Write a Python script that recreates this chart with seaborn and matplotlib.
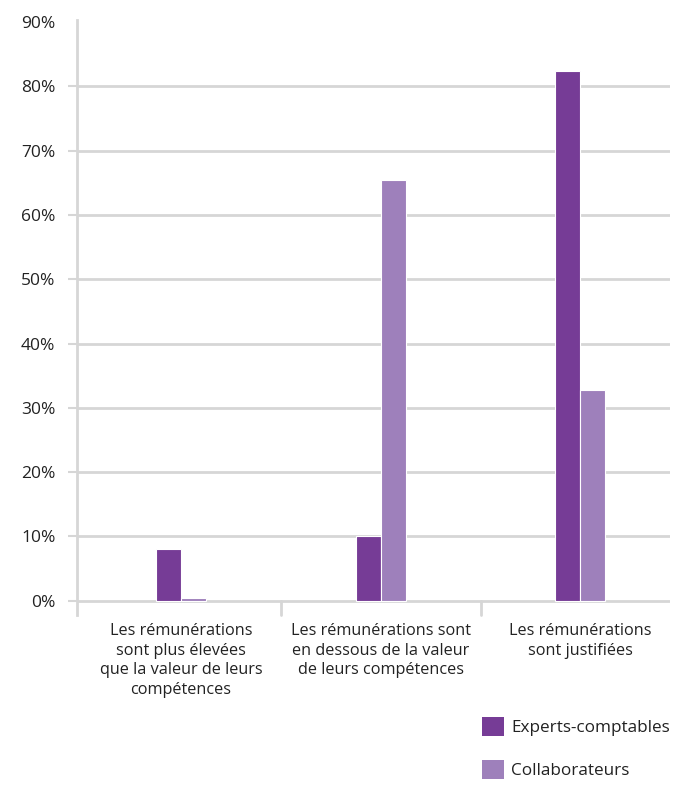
import matplotlib
matplotlib.use("Agg")
import matplotlib.pyplot as plt
import seaborn as sns
import pandas as pd
from matplotlib.patches import Patch

categories = [
    "Les rémunérations\nsont plus élevées\nque la valeur de leurs\ncompétences",
    "Les rémunérations sont\nen dessous de la valeur\nde leurs compétences",
    "Les rémunérations\nsont justifiées",
]
series_names = ["Experts-comptables", "Collaborateurs"]
experts = [8.0, 10.0, 82.4]
collaborateurs = [0.4, 65.4, 32.8]
yticks = [0, 10, 20, 30, 40, 50, 60, 70, 80, 90]
ytick_labels = [f"{v}%" for v in yticks]
colors = ["#763C96", "#9E80BB"]

df = pd.DataFrame({
    "cat": categories * 2,
    "serie": [series_names[0]] * 3 + [series_names[1]] * 3,
    "val": experts + collaborateurs,
})

sns.set_theme(style="white")
plt.rcParams["font.family"] = ["Open Sans", "DejaVu Sans"]

fig = plt.figure(figsize=(6.78, 7.87), dpi=100)
ax = fig.add_axes([0.1136, 0.2186, 0.875, 0.756])

sns.barplot(data=df, x="cat", y="val", hue="serie", order=categories,
            hue_order=series_names, palette=colors, width=0.25, saturation=1,
            edgecolor="white", linewidth=0.8, ax=ax, legend=False)
for p in ax.patches:
    p.set_zorder(3)

grid_c = "#D6D6D6"
ax.set_ylim(-2.2, 90.3)
ax.set_xlim(-0.52, 2.45)
for v in yticks[:-1]:
    ax.axhline(v, color=grid_c, lw=2, zorder=0)
for xb in [0.5, 1.5]:
    ax.plot([xb, xb], [-2.2, 0], color=grid_c, lw=2, zorder=0, clip_on=False)

for s in ["top", "right", "bottom"]:
    ax.spines[s].set_visible(False)
ax.spines["left"].set_color(grid_c)
ax.spines["left"].set_linewidth(2)

ax.set_yticks(yticks)
ax.set_yticklabels(ytick_labels, fontsize=12.5, color="#222222")
ax.tick_params(axis="y", which="both", left=True, length=6.5, width=1.5,
               color=grid_c, pad=9)
ax.yaxis.get_major_ticks()[-1].tick1line.set_visible(False)

ax.set_xticks(range(3))
ax.set_xticklabels(categories, fontsize=11.7, color="#222222", linespacing=1.3)
ax.tick_params(axis="x", length=0, pad=6)
ax.set_xlabel("")
ax.set_ylabel("")

handles = [Patch(facecolor=c, edgecolor="none") for c in colors]
fig.legend(handles, series_names, loc="upper left",
           bbox_to_anchor=(0.688, 0.109), frameon=False, fontsize=12.3,
           handlelength=1.3, handleheight=1.36, handletextpad=0.4,
           labelspacing=1.4, labelcolor="#222222")

fig.savefig("out.png", dpi=100)
